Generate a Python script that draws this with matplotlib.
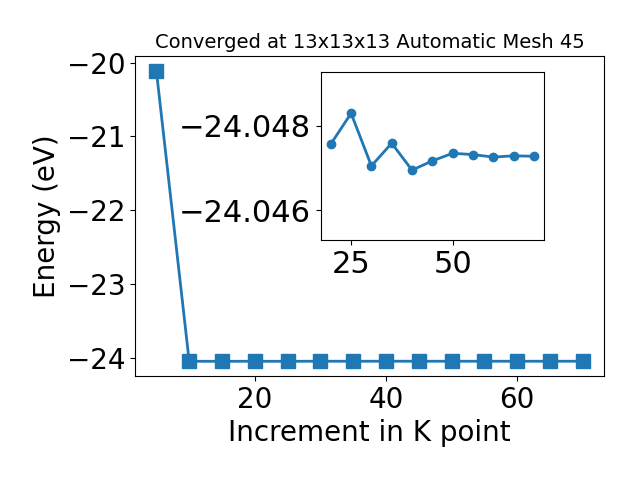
import matplotlib
matplotlib.use('Agg')
import matplotlib.pyplot as plt

# k-point increments and total energies
kpoints = [5, 10, 15, 20, 25, 30, 35, 40, 45, 50, 55, 60, 65, 70]
energy = [-20.11, -24.0476, -24.0483, -24.0470, -24.0476, -24.0470, -24.0472,
          -24.0474, -24.0473, -24.0473, -24.0473, -24.0473, -24.0473, -24.0473]

# zoomed view from 20 onwards
kpoints_zoom = [20, 25, 30, 35, 40, 45, 50, 55, 60, 65, 70]
energy_zoom = [-24.04757, -24.04830, -24.04705, -24.04759, -24.04695, -24.04717,
               -24.04735, -24.04732, -24.04726, -24.04729, -24.04728]
energy[3:] = energy_zoom

fig = plt.figure(figsize=(6.4, 4.8), dpi=100)
ax = fig.add_axes([0.211, 0.217, 0.733, 0.666])
ax.plot(kpoints, energy, marker='s', markersize=10, linewidth=2)
ax.set_xlabel('Increment in K point', fontsize=20)
ax.set_ylabel('Energy (eV)', fontsize=20)
ax.set_title('Converged at 13x13x13 Automatic Mesh 45', fontsize=14)
ax.tick_params(labelsize=20)

ins = fig.add_axes([0.501, 0.5, 0.349, 0.349])
ins.plot(kpoints_zoom, energy_zoom, marker='o', markersize=6, linewidth=2)
ins.set_ylim(-24.04529, -24.04927)
ins.set_yticks([-24.048, -24.046])
ins.ticklabel_format(useOffset=False)
ins.tick_params(labelsize=22)

fig.savefig('out.png')
